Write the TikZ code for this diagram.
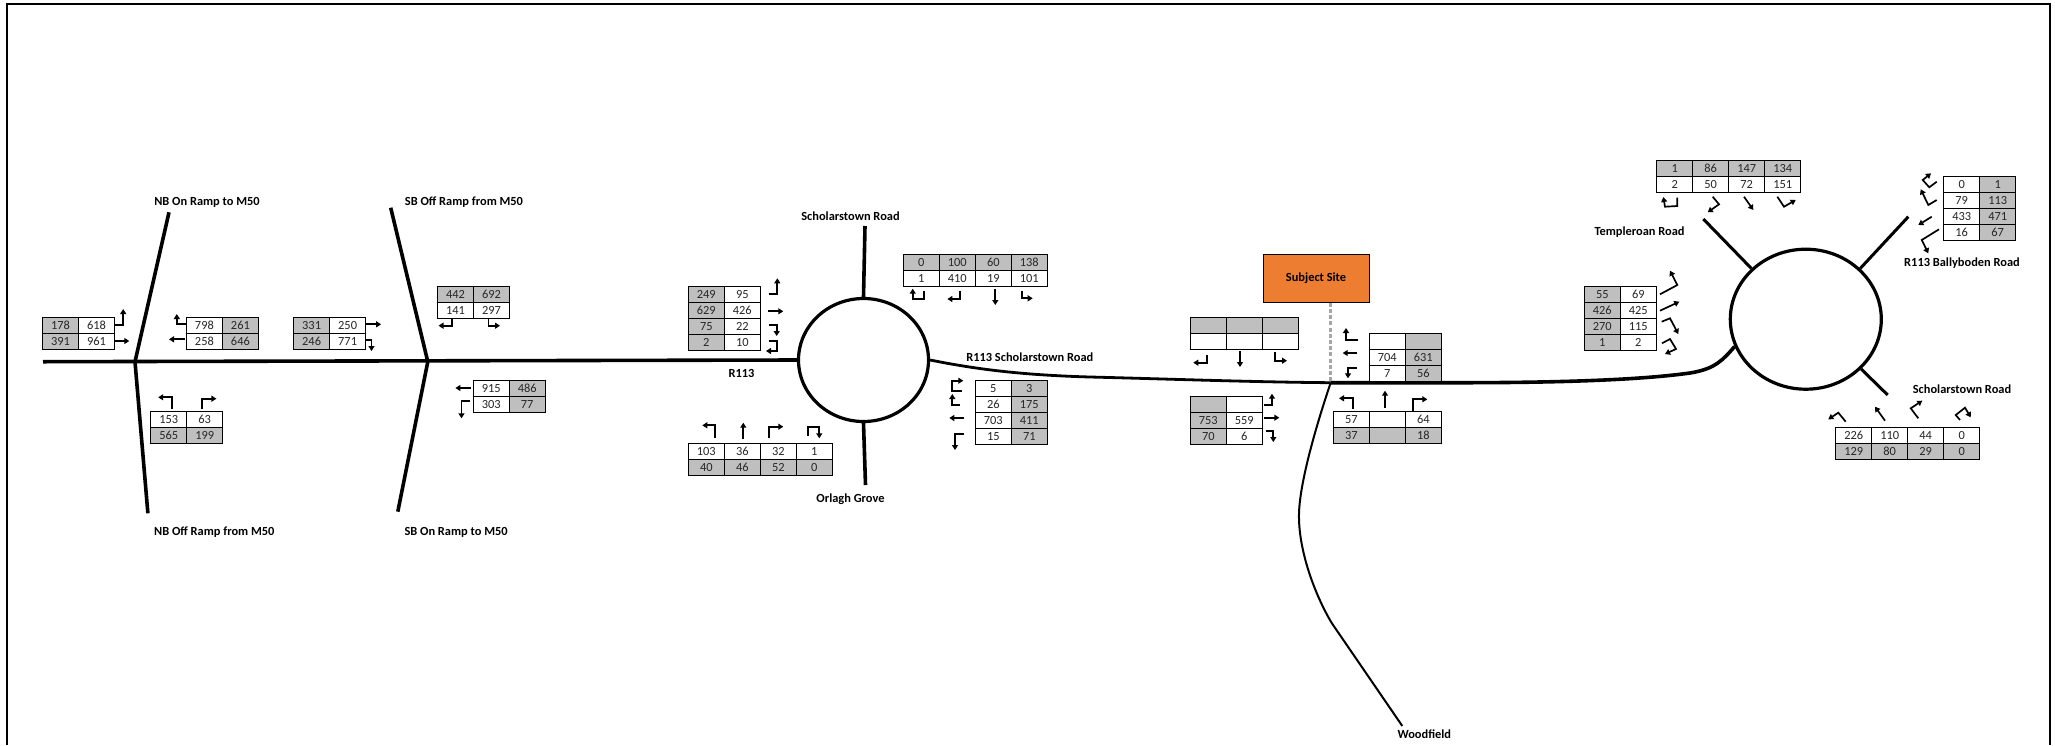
\documentclass[tikz,border=0pt]{standalone}
\usepackage{fontspec}
\setmainfont{Carlito}
\usetikzlibrary{positioning, arrows.meta, shapes.geometric}

\newcommand{\tgrid}[4]{%
  \foreach \rowcells [count=\rowno] in {#4} {
    \foreach \kind/\val [count=\colno] in \rowcells {
      \node[cell, \kind] (#1-\rowno-\colno)
        at ({#2+(\colno-1)*36+18}, {#3+(\rowno-1)*15.9+8}) {\val};
    }
  }
}

\begin{document}
\begin{tikzpicture}[
  x=1pt, y=-1pt,
  cell/.style={draw=black, line width=0.9pt, minimum width=36pt, minimum height=15.9pt, inner sep=0pt,
               text=black!85, text height=8pt, text depth=0pt, font=\fontsize{12.4}{14}\selectfont},
  wc/.style={fill=white},
  gc/.style={fill=tablegrey},
  road/.style={line width=3.6pt, line join=round},
  thinroad/.style={line width=2pt},
  rbt/.style={draw, ellipse, line width=3.2pt, inner sep=0pt, fill=white},
  roadlabel/.style={font=\fontsize{12.4}{14}\selectfont\bfseries, inner sep=0pt},
  arw/.style={-{Triangle[length=5pt, width=6pt]}, line width=1.7pt},
  site/.style={draw=black, line width=1pt, fill=siteorange, inner sep=0pt,
               minimum width=106pt, minimum height=48pt,
               font=\fontsize{12.4}{14}\selectfont\bfseries}
]
\definecolor{tablegrey}{HTML}{BFBFBF}
\definecolor{siteorange}{HTML}{ED7D31}
\useasboundingbox (0,0) rectangle (2055,745);

\draw[line width=2.4pt] (7,745) -- (7,4) -- (2050,4) -- (2050,745);

\node[rbt, minimum width=130pt, minimum height=123pt] (rbtwest) at (863.5,360) {};
\node[rbt, minimum width=151pt, minimum height=140pt] (rbteast) at (1805.8,319.2) {};

\coordinate (roadstart) at (43,361.7);
\coordinate (nbjunc) at (135,361.7);
\coordinate (sbjunc) at (427.8,361.7);
\coordinate (nbonend) at (169,212.3);
\coordinate (nboffend) at (147.9,513.3);
\coordinate (sboffend) at (390.7,207.7);
\coordinate (sbonend) at (397.8,511.7);
\coordinate (schnorth) at (865,226);
\coordinate (orlagh) at (865.5,485);
\coordinate (sitejunc) at (1330.7,382.7);
\coordinate (woodend) at (1402.3,726);
\coordinate (temple) at (1703.3,219);
\coordinate (bally) at (1908.3,216.7);
\coordinate (schsouth) at (1887.7,395);

\draw[road] (roadstart) -- (rbtwest.180);
\draw[road] (nbonend) -- (nbjunc) -- (nboffend);
\draw[road] (sboffend) -- (sbjunc) -- (sbonend);
\draw[road] (schnorth) -- (rbtwest.north);
\draw[road] (orlagh) -- (rbtwest.south);
\draw[road, line width=2.8pt] (rbtwest.0) .. controls (975,369) and (1020,375) .. (1090,377)
  .. controls (1170,379) and (1250,382) .. (sitejunc);
\draw[road] (sitejunc) -- (1470,382.7) .. controls (1560,382.5) and (1640,380) .. (1690,373)
  .. controls (1715,369) and (1723,360) .. (rbteast.201);
\draw[thinroad] (sitejunc) .. controls (1318,420) and (1300,480) .. (1299,513)
  .. controls (1298,550) and (1315,595) .. (1331.7,623) -- (woodend);
\draw[road, line width=3pt] (temple) -- (rbteast.137);
\draw[road, line width=3pt] (bally) -- (rbteast.43);
\draw[road, line width=3pt] (schsouth) -- (rbteast.-42);

\node[site] (subject) at (1316,278.3) {Subject Site};
\draw[black!35, line width=3.4pt, dash pattern=on 4pt off 2.2pt] (subject.south -| sitejunc) -- (sitejunc);

\node[roadlabel] (nbonlab) at (207,202) {NB On Ramp to M50};
\node[roadlabel] (sbofflab) at (464,202) {SB Off Ramp from M50};
\node[roadlabel] (nbofflab) at (214.3,532) {NB Off Ramp from M50};
\node[roadlabel] (sbonlab) at (456.1,532) {SB On Ramp to M50};
\node[roadlabel] (schnlab) at (850.5,216) {Scholarstown Road};
\node[roadlabel] (r113schlab) at (1029.8,357.5) {R113 Scholarstown Road};
\node[roadlabel] (r113lab) at (741.5,373.5) {R113};
\node[roadlabel] (orlaghlab) at (850.5,499) {Orlagh Grove};
\node[roadlabel] (templelab) at (1639.5,232) {Templeroan Road};
\node[roadlabel] (ballylab) at (1962,263) {R113 Ballyboden Road};
\node[roadlabel] (schslab) at (1962,389) {Scholarstown Road};
\node[roadlabel] (woodlab) at (1424.3,734) {Woodfield};

\tgrid{nbwest}{42.5}{317.3}{{gc/178,wc/618},{gc/391,wc/961}}
\tgrid{nbeast}{186.4}{317.3}{{wc/798,gc/261},{wc/258,gc/646}}
\tgrid{sbwest}{293.6}{317.3}{{gc/331,wc/250},{gc/246,wc/771}}
\tgrid{sbnorth}{437.5}{286.7}{{gc/442,gc/692},{wc/141,wc/297}}
\tgrid{sbeast}{473.2}{380.7}{{wc/915,gc/486},{wc/303,gc/77}}
\tgrid{nbsouth}{150.7}{411.7}{{wc/153,wc/63},{gc/565,gc/199}}
\tgrid{rwwest}{688.3}{286.7}{{gc/249,wc/95},{gc/629,wc/426},{gc/75,wc/22},{gc/2,wc/10}}
\tgrid{rwnorth}{903.3}{254.7}{{gc/0,gc/100,gc/60,gc/138},{wc/1,wc/410,wc/19,wc/101}}
\tgrid{rweast}{975.3}{380.7}{{wc/5,gc/3},{wc/26,gc/175},{wc/703,gc/411},{wc/15,gc/71}}
\tgrid{rwsouth}{688.3}{443.3}{{wc/103,wc/36,wc/32,wc/1},{gc/40,gc/46,gc/52,gc/0}}
\tgrid{sitenorth}{1190.3}{317.3}{{gc/,gc/,gc/},{wc/,wc/,wc/}}
\tgrid{sitewest}{1190.3}{396.3}{{gc/,wc/},{gc/753,wc/559},{gc/70,wc/6}}
\tgrid{siteeast}{1369.3}{333.7}{{wc/,gc/},{wc/704,gc/631},{wc/7,gc/56}}
\tgrid{sitesouth}{1333.3}{411.7}{{wc/57,wc/,wc/64},{gc/37,gc/,gc/18}}
\tgrid{rewest}{1584.3}{286.7}{{gc/55,wc/69},{gc/426,wc/425},{gc/270,wc/115},{gc/1,wc/2}}
\tgrid{renorth}{1656.7}{160.7}{{gc/1,gc/86,gc/147,gc/134},{wc/2,wc/50,wc/72,wc/151}}
\tgrid{reeast}{1943.7}{176.7}{{wc/0,gc/1},{wc/79,gc/113},{wc/433,gc/471},{wc/16,gc/67}}
\tgrid{resouth}{1835.7}{427.7}{{wc/226,wc/110,wc/44,wc/0},{gc/129,gc/80,gc/29,gc/0}}

\draw[arw] (115,325) -- (123.2,325) -- (123.2,309);
\draw[arw] (115,341) -- (129.3,341);
\draw[arw] (186.4,324.3) -- (176.8,324.3) -- (176.8,314);
\draw[arw] (185,339.3) -- (169,339.3);
\draw[arw] (366.1,324.3) -- (381.1,324.3);
\draw[arw] (365,340) -- (371.5,340) -- (371.5,351);
\draw[arw] (452.1,318.3) -- (452.1,325.7) -- (438.5,325.7);
\draw[arw] (488.6,317.7) -- (488.6,325.7) -- (500,325.7);
\draw[arw] (470.7,388) -- (455.4,388);
\draw[arw] (469.6,401.3) -- (461.5,401.3) -- (461.5,418.3);
\draw[arw] (171.8,409.3) -- (171.8,397.3) -- (158.2,397.3);
\draw[arw] (201.7,409.3) -- (201.7,398.7) -- (216.4,398.7);

\draw[arw] (768.7,294) -- (777.3,294) -- (777.3,278.3);
\draw[arw] (768,311.3) -- (783.3,311.3);
\draw[arw] (769.3,325) -- (776.7,325) -- (776.7,336);
\draw[arw] (768.7,341) -- (777.3,341) -- (777.3,351) -- (766,351);
\draw[arw] (924.3,291.3) -- (924.3,298.7) -- (912.7,298.7) -- (912.7,288.7);
\draw[arw] (960.3,290.7) -- (960.3,299) -- (947.3,299);
\draw[arw] (995.3,289.3) -- (995.3,305);
\draw[arw] (1021.7,290.7) -- (1021.7,298.3) -- (1032.7,298.3);
\draw[arw] (961.7,391) -- (951.7,391) -- (951.7,380.7) -- (963.3,380.7);
\draw[arw] (960,405) -- (952.3,405) -- (952.3,394);
\draw[arw] (964.3,418) -- (949.3,418);
\draw[arw] (963.7,434.3) -- (955,434.3) -- (955,450);
\draw[arw] (715.3,438) -- (715.3,425.3) -- (702.3,425.3);
\draw[arw] (743.3,439) -- (743.3,422.7);
\draw[arw] (769.3,438) -- (769.3,426.7) -- (783.3,426.7);
\draw[arw] (808.3,435.7) -- (808.3,427) -- (819.3,427) -- (819.3,438.3);

\draw[arw] (1207,355) -- (1207,362.7) -- (1193.3,362.7);
\draw[arw] (1240,351.3) -- (1240,367);
\draw[arw] (1275.3,352) -- (1275.3,360.7) -- (1287,360.7);
\draw[arw] (1358.3,339.7) -- (1346,339.7) -- (1346,328);
\draw[arw] (1357.3,353) -- (1342.7,353);
\draw[arw] (1356.7,368.3) -- (1348,368.3) -- (1348,378.3);
\draw[arw] (1263.7,405) -- (1272,405) -- (1272,393.7);
\draw[arw] (1264.3,417.7) -- (1279.3,417.7);
\draw[arw] (1265.7,430.7) -- (1273.3,430.7) -- (1273.3,442);
\draw[arw] (1352.7,409) -- (1352.7,398.3) -- (1339,398.3);
\draw[arw] (1385,408) -- (1385,390.7);
\draw[arw] (1413.3,410.7) -- (1413.3,399.3) -- (1427.3,399.3);

\draw[arw] (1677.3,197.7) -- (1677.3,206) -- (1665,206.7) -- (1663.3,197);
\draw[arw] (1712.7,196.7) -- (1719,204.3) -- (1707.7,212.3);
\draw[arw] (1744,196.7) -- (1753.3,210);
\draw[arw] (1777.3,196.7) -- (1784,206.7) -- (1795.7,200);
\draw[arw] (1936.7,181.7) -- (1929.3,187.3) -- (1922.7,180) -- (1931,173.3);
\draw[arw] (1936.7,200) -- (1928.3,205) -- (1920.7,189.3);
\draw[arw] (1931.7,216.7) -- (1918.3,225);
\draw[arw] (1939,229.3) -- (1921.7,240) -- (1928.3,253.3);
\draw[arw] (1660,294.3) -- (1677.3,285) -- (1670,270.7);
\draw[arw] (1660,310.7) -- (1679.3,301.7);
\draw[arw] (1661.7,321.7) -- (1670,318.3) -- (1678.3,334);
\draw[arw] (1662,343.3) -- (1670,339) -- (1676,349) -- (1665,354);
\draw[arw] (1845.7,421.7) -- (1838.3,412.7) -- (1828.3,419.3);
\draw[arw] (1885,420.7) -- (1875,406.7);
\draw[arw] (1918.3,418.3) -- (1910.7,408.3) -- (1922.3,400.7);
\draw[arw] (1960,420) -- (1955.7,415) -- (1965,407.7) -- (1970.7,417.3);

\end{tikzpicture}
\end{document}
